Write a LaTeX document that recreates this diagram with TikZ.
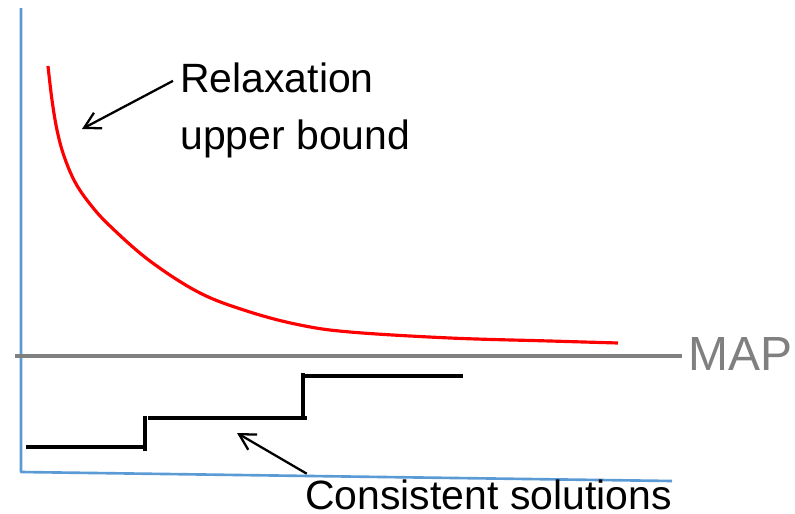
\documentclass[tikz,border=0pt]{standalone}
\usepackage{fontspec}
\setmainfont{Liberation Sans}
\usetikzlibrary{arrows.meta}
\definecolor{axisblue}{RGB}{91,155,213}
\definecolor{mapgray}{RGB}{128,128,128}

\begin{document}
\begin{tikzpicture}[x=0.02cm,y=-0.02cm,line cap=butt,line join=round,
  lbl/.style={inner sep=0pt,anchor=base west,font=\fontsize{23.3}{28}\selectfont},
  pointer/.style={line width=1.3pt,-{Straight Barb[length=9pt,width=10pt,line width=1.3pt]}}]
  \useasboundingbox (0,0) rectangle (795,514);
  \coordinate (O) at (21,472);
  \draw[axisblue,line width=1.5pt] (21,8) -- (O) -- (672,481);
  \draw[mapgray,line width=1.8pt] (15,356) -- (682,356);
  \node[lbl,text=mapgray,font=\fontsize{27.3}{32}\selectfont] (map) at (688,370) {MAP};
  % relaxation bound
  \draw[red,line width=1.8pt] plot[smooth,tension=0.6] coordinates {(48,66) (52,100) (57,130)
    (64,156) (75,182) (90,204) (110,226) (150,261) (200,293) (250,312) (300,325)
    (350,332) (450,338) (550,341) (618,343)};
  % consistent solutions
  \draw[line width=2pt] (26,447) -- (145,447);
  \draw[line width=2pt] (145,451) -- (145,416);
  \draw[line width=2pt] (148,418) -- (307,418);
  \draw[line width=2pt] (303,420) -- (303,373);
  \draw[line width=2pt] (303,376) -- (463,376);
  \node[lbl] (relax) at (180,92) {Relaxation};
  \node[lbl] (upper) at (180,149) {upper bound};
  \node[lbl] (consist) at (305,509) {Consistent solutions};
  \coordinate (relaxtip) at (82,129);
  \coordinate (consisttip) at (237,433);
  \draw[pointer] ([xshift=-4pt,yshift=-2pt]relax.west) -- (relaxtip);
  \draw[pointer] ([xshift=1pt,yshift=3pt]consist.north west) -- (consisttip);
\end{tikzpicture}
\end{document}
